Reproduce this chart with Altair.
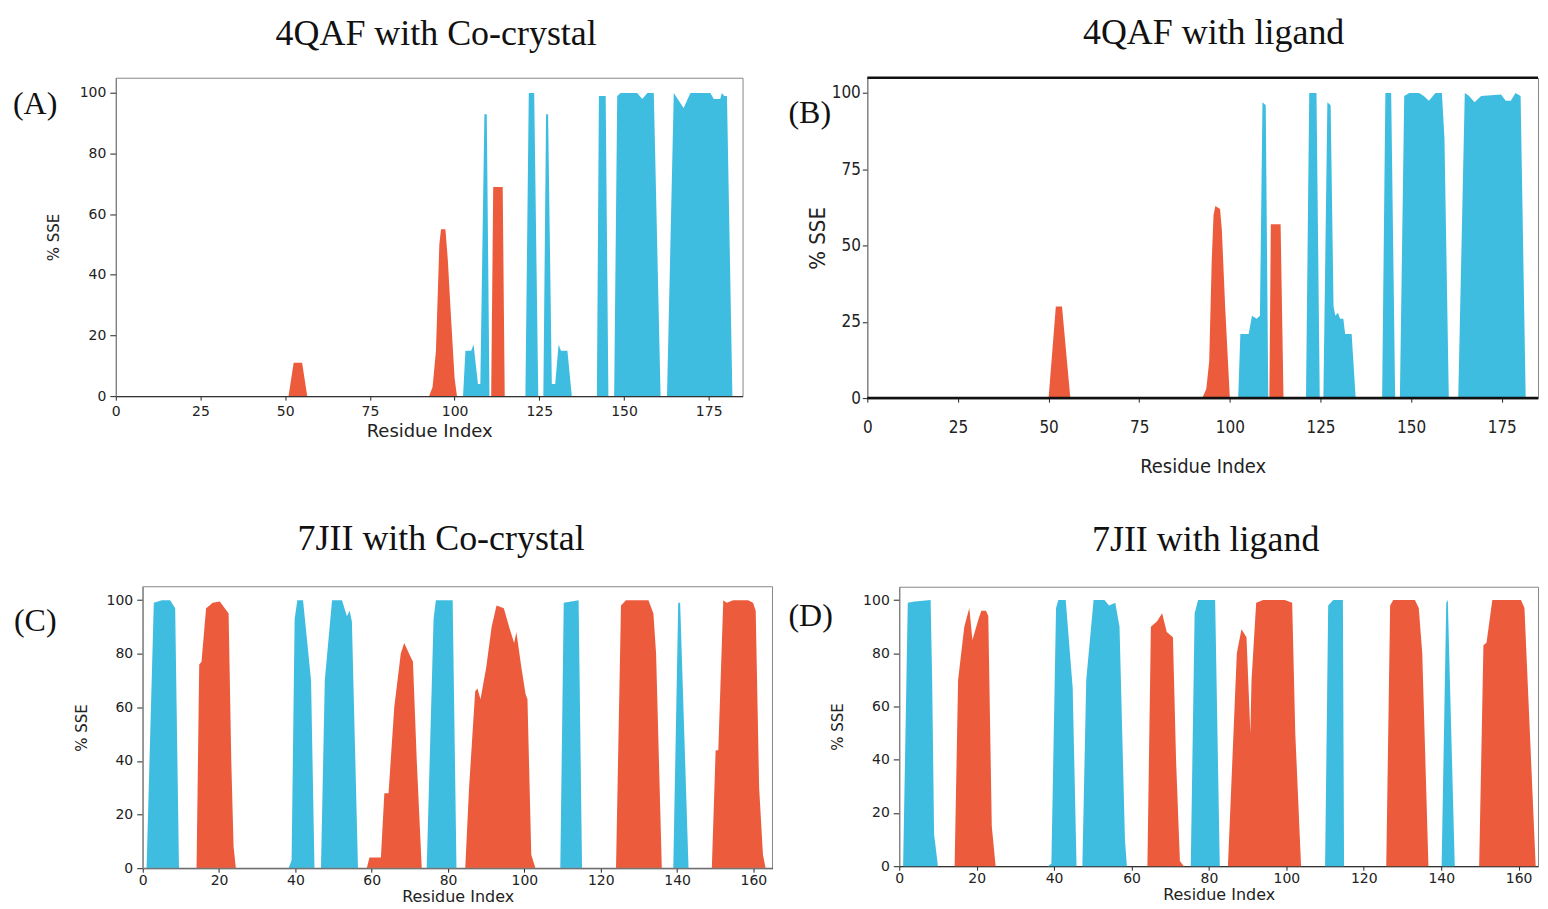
import altair as alt
import pandas as pd

# ---------------- data ----------------
SERIES = ["Helix", "Strand"]
HELIX_COLOR = "#EC5C3C"
STRAND_COLOR = "#3EBDE0"

titles = ["4QAF with Co-crystal", "4QAF with ligand", "7JII with Co-crystal", "7JII with ligand"]
panel_labels = ["(A)", "(B)", "(C)", "(D)"]
x_title = "Residue Index"
y_title = "% SSE"
xticks_4qaf = [0, 25, 50, 75, 100, 125, 150, 175]
xticks_7jii = [0, 20, 40, 60, 80, 100, 120, 140, 160]
yticks_20 = [0, 20, 40, 60, 80, 100]
yticks_25 = [0, 25, 50, 75, 100]

# Panel A: 4QAF with Co-crystal
a_helix_x = [51, 52.5, 55, 56.5,
             92.5, 93.5, 94.5, 95.5, 96, 97.3, 98, 99, 100, 100.7,
             110.8, 111.4, 114.2, 114.8]
a_helix_y = [0, 11, 11, 0,
             0, 3, 15, 50, 55, 55, 45, 25, 6, 0,
             0, 69, 69, 0]
a_strand_x = [102.5, 103.2, 104.9, 105.6, 106.9, 107.6, 108.8, 109.5, 110.3,
              120.9, 121.9, 123.5, 124.7,
              126.2, 127.0, 127.6, 128.7, 129.7, 130.7, 131.4, 133.3, 134.6,
              142.0, 142.6, 144.6, 145.4,
              147.1, 148.0, 149.0, 153.9, 155.4, 156.9, 158.8, 160.8,
              162.7, 164.7, 167.6, 169.6, 175.5, 176.5, 178.4, 178.9, 179.6, 180.4, 182.0]
a_strand_y = [0, 15, 15, 17, 4, 4, 93, 93, 0,
              0, 100, 100, 0,
              0, 93, 93, 4, 4, 17, 15, 15, 0,
              0, 99, 99, 0,
              0, 99, 100, 100, 98, 100, 100, 0,
              0, 100, 95, 100, 100, 98, 98, 100, 99, 99, 0]

# Panel B: 4QAF with ligand
b_helix_x = [50, 52, 53.7, 56,
             92.4, 93.5, 94.3, 95, 95.5, 96, 97.3, 97.8, 98.7, 100,
             110.9, 111.3, 114, 114.8]
b_helix_y = [0, 30, 30, 0,
             0, 3, 12, 45, 60, 63, 62, 55, 30, 0,
             0, 57, 57, 0]
b_strand_x = [102.3, 102.9, 105.2, 106.1, 107.4, 108.3, 109.0, 109.9, 110.6,
              121.0, 121.9, 123.9, 124.8,
              125.8, 126.9, 127.8, 128.6, 129.1, 129.8, 130.4, 131.3, 131.8, 133.6, 134.7,
              142.0, 142.9, 144.5, 145.6,
              146.9, 148.1, 149.5, 152.2, 153.5, 154.9, 156.7, 158.5, 159.2, 160.4,
              163.0, 164.8, 166.0, 167.5, 169.3, 174.8, 176.1, 177.5, 178.8, 180.2, 181.6]
b_strand_y = [0, 21, 21, 27, 26, 27, 97, 96, 0,
              0, 100, 100, 0,
              0, 97, 96, 30, 27, 28, 26, 26, 21, 21, 0,
              0, 100, 100, 0,
              0, 99, 100, 100, 99, 97.5, 100, 100, 85, 0,
              0, 100, 99, 97, 99, 99.5, 97.5, 97.5, 100, 99, 0]

# Panel C: 7JII with Co-crystal
c_helix_x = [14.1, 14.8, 15.4, 16.6, 17.5, 18.3, 20.2, 21.5, 22.5, 23.2, 23.8, 24.4,
             58.7, 59.4, 62.4, 63.3, 64.4, 65.9, 67.6, 68.5, 69.8, 70.8, 71.8, 73.1,
             84.5, 85.5, 87.1, 87.7, 88.5, 90.0, 91.4, 92.7, 94.6, 96.0, 97.3, 97.9, 99.2, 100.3, 100.8, 101.8, 102.9,
             124.0, 125.3, 126.6, 132.5, 133.8, 134.5, 136.0,
             149.1, 150.1, 150.8, 152.1, 153.0, 154.7, 158.6, 159.9, 160.6, 161.5, 162.5, 163.2]
c_helix_y = [0, 76, 77, 97, 98, 99, 99.5, 97, 95, 40, 8, 0,
             0, 4, 4, 28, 28, 60, 80, 84, 80, 77, 40, 0,
             0, 30, 66, 67, 63, 75, 90, 98, 97, 90, 84, 88, 75, 65, 63, 5, 0,
             0, 98, 100, 100, 95, 80, 0,
             0, 44, 44, 100, 99, 100, 100, 99, 96, 30, 5, 0]
c_strand_x = [1.0, 2.9, 5.0, 7.2, 8.5, 9.5,
              38.2, 39.0, 39.8, 40.5, 42.0, 44.1, 45.0,
              46.7, 47.7, 49.6, 52.2, 53.5, 54.2, 54.8, 56.4,
              74.4, 76.2, 76.8, 81.2, 82.2,
              109.4, 110.3, 114.2, 115.1,
              139.0, 140.3, 140.8, 143.0]
c_strand_y = [0, 99, 100, 100, 97, 0,
              0, 3, 93, 100, 100, 70, 0,
              0, 70, 100, 100, 94, 96, 92, 0,
              0, 93, 100, 100, 0,
              0, 99, 100, 0,
              0, 99, 99, 0]

# Panel D: 7JII with ligand
d_helix_x = [14.3, 15.2, 16.8, 18.1, 18.9, 20.5, 21.2, 22.4, 23.0, 23.9, 24.9,
             64.1, 65.0, 66.6, 67.9, 69.1, 70.7, 71.5, 72.5, 73.5,
             84.9, 87.2, 88.4, 89.7, 90.7, 91.0, 92.2, 94.0, 99.6, 101.5, 102.3, 103.8,
             125.8, 126.8, 127.6, 133.2, 134.2, 135.1, 136.7,
             149.8, 150.9, 151.7, 153.2, 160.6, 161.5, 164.4]
d_helix_y = [0, 70, 90, 97, 85, 93, 96, 96, 94, 15, 0,
             0, 90, 92, 95, 88, 86, 40, 2, 0,
             0, 80, 89, 86, 50, 70, 99, 100, 100, 99, 50, 0,
             0, 98, 100, 100, 97, 80, 0,
             0, 83, 84, 100, 100, 97, 0]
d_strand_x = [1.0, 2.2, 4.0, 8.1, 8.5, 9.0, 10.0,
              38.4, 39.3, 40.5, 41.1, 43.0, 44.8, 45.8,
              47.3, 48.3, 50.2, 53.0, 54.2, 55.8, 56.9, 58.3, 58.8,
              75.3, 76.3, 77.2, 81.6, 82.8,
              110.0, 110.8, 112.1, 114.6, 114.9,
              140.1, 141.3, 141.7, 143.5]
d_strand_y = [0, 99, 99.5, 100, 70, 12, 0,
              0, 1, 97, 100, 100, 67, 0,
              0, 70, 100, 100, 98, 99, 90, 10, 0,
              0, 95, 100, 100, 0,
              0, 98, 100, 100, 0,
              0, 99, 100, 0]

# ---------------- styling ----------------
SANS = "DejaVu Sans"
NARROW = "Liberation Sans Narrow, DejaVu Sans Condensed, Liberation Sans"
SERIF = "Liberation Serif"
FRAME = "#888"


def series_frame(hx, hy, sx, sy):
    h = pd.DataFrame({"residue": hx, "sse": hy, "type": SERIES[0]})
    s = pd.DataFrame({"residue": sx, "sse": sy, "type": SERIES[1]})
    return pd.concat([h, s], ignore_index=True)


def panel(df, title, title_dx, title_offset, label, lx, ly, xmax, xticks, yticks,
          width, height, style="mpl", shift=0):
    if style == "narrow":
        lab_font, lab_size, ttl_x, ttl_y = NARROW, 17, 20, 22
        x_lpad, x_tpad, y_tpad, y_tick, y_lpad = 17, 22, 2, 5, 2
    elif style == "compact":
        lab_font, lab_size, ttl_x, ttl_y = SANS, 14, 16, 15
        x_lpad, x_tpad, y_tpad, y_tick, y_lpad = 1, 1, 17, 6, 4
    else:
        lab_font, lab_size, ttl_x, ttl_y = SANS, 14, 18, 15
        x_lpad, x_tpad, y_tpad, y_tick, y_lpad = 4, 4, 18, 6, 4
    xaxis = alt.Axis(values=xticks, title=x_title, grid=False, labelFont=lab_font,
                     labelFontSize=lab_size, labelColor="#222", tickColor="#222",
                     tickSize=4, labelPadding=x_lpad, domainColor="#333", domainWidth=1.3,
                     titleFont=lab_font, titleFontSize=ttl_x, titleFontWeight="normal",
                     titleColor="#222", titlePadding=x_tpad, labelFlush=False)
    yaxis_kw = dict(values=yticks, title=y_title, grid=False, labelFont=lab_font,
                    labelFontSize=lab_size, labelColor="#222", tickColor="#222",
                    tickSize=y_tick, labelPadding=y_lpad, domainColor="#777",
                    titleFont=lab_font, titleFontSize=ttl_y, titleFontWeight="normal",
                    titleColor="#222", titlePadding=y_tpad)
    if shift:
        yaxis_kw["offset"] = -shift
    yaxis = alt.Axis(**yaxis_kw)
    total_w = width + shift
    xscale = alt.Scale(domain=[0, xmax], nice=False, zero=False, range=[shift, total_w])
    area = alt.Chart(df).mark_area(interpolate="linear").encode(
        x=alt.X("residue:Q", scale=xscale, axis=xaxis),
        y=alt.Y("sse:Q", stack=None, scale=alt.Scale(domain=[0, 105], nice=False), axis=yaxis),
        color=alt.Color("type:N", scale=alt.Scale(domain=SERIES, range=[HELIX_COLOR, STRAND_COLOR]),
                        legend=None),
    )
    lab = alt.Chart(pd.DataFrame({"t": [label]})).mark_text(
        font=SERIF, fontSize=32, align="left", baseline="middle", color="#111"
    ).encode(text="t:N", x=alt.value(lx), y=alt.value(ly))
    layers = [area, lab]
    one = pd.DataFrame({"k": [0]})
    if shift:
        frame = alt.Chart(one).mark_rect(filled=False, stroke=FRAME, strokeWidth=1).encode(
            x=alt.value(shift), x2=alt.value(total_w), y=alt.value(0), y2=alt.value(height))
        layers.append(frame)
    if style == "narrow":
        top = alt.Chart(one).mark_rule(color="#111", strokeWidth=2.5).encode(
            x=alt.value(0), x2=alt.value(width), y=alt.value(0))
        bot = alt.Chart(one).mark_rule(color="#111", strokeWidth=2.5).encode(
            x=alt.value(0), x2=alt.value(width), y=alt.value(height))
        layers += [top, bot]
    view = alt.ViewBackground(stroke=FRAME, strokeWidth=1, strokeOpacity=0 if shift else 1)
    return alt.layer(*layers).properties(
        width=total_w, height=height, view=view,
        title=alt.TitleParams(text=title, font=SERIF, fontSize=36, fontWeight="normal",
                              color="#111", anchor="middle", baseline="alphabetic",
                              offset=title_offset, dx=title_dx),
    )


pA = panel(series_frame(a_helix_x, a_helix_y, a_strand_x, a_strand_y), titles[0], 7, -3,
           panel_labels[0], -103, 26, 185, xticks_4qaf, yticks_20, 628, 319)
pB = panel(series_frame(b_helix_x, b_helix_y, b_strand_x, b_strand_y), titles[1], 11, -3,
           panel_labels[1], -79, 35, 185, xticks_4qaf, yticks_25, 672, 321, style="narrow")
pC = panel(series_frame(c_helix_x, c_helix_y, c_strand_x, c_strand_y), titles[2], -3, 0,
           panel_labels[2], -102, 34, 165, xticks_7jii, yticks_20, 631, 282, style="compact",
           shift=27)
pD = panel(series_frame(d_helix_x, d_helix_y, d_strand_x, d_strand_y), titles[3], -13, 0,
           panel_labels[3], -111, 29, 165, xticks_7jii, yticks_20, 640, 280, style="compact")

row1 = alt.hconcat(pA, pB, spacing=44)
row2 = alt.hconcat(pC, pD, spacing=14)
chart = alt.vconcat(row1, row2, spacing=43).properties(
    padding={"left": 4, "top": 5, "right": 0, "bottom": 0}
).configure(background="white")

chart.save("out.html", embed_options={"renderer": "svg", "actions": False})
